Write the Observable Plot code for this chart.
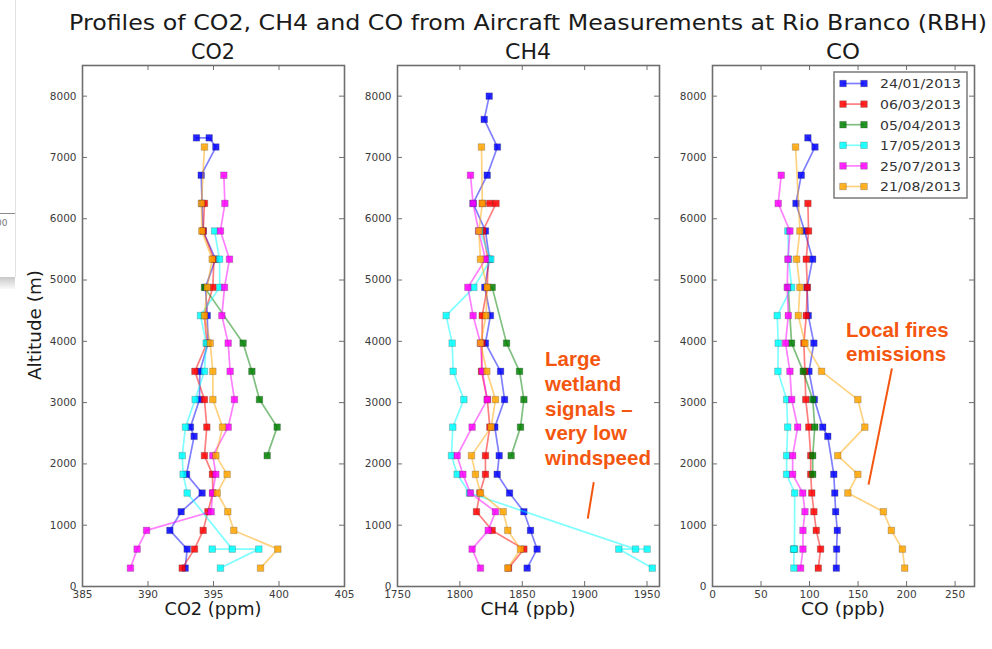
<!DOCTYPE html>
<html><head><meta charset="utf-8">
<script src="https://cdn.jsdelivr.net/npm/d3@7"></script>
<script src="https://cdn.jsdelivr.net/npm/@observablehq/plot@0.6"></script>
<style>
body{margin:0;background:#fff;font-family:"DejaVu Sans",sans-serif}
#root{position:relative;width:992px;height:649px;overflow:hidden;background:#fff}
#root svg{position:absolute;top:0}
</style></head><body><div id="root"></div>
<script>
// ---------- data ----------
const series = ["24/01/2013","06/03/2013","05/04/2013","17/05/2013","25/07/2013","21/08/2013"];
const colors = ["#0000ff","#ff0000","#008000","#00ffff","#ff00ff","#ffa500"];
const yTicks = [0,1000,2000,3000,4000,5000,6000,7000,8000];

// CO2 (ppm) : [altitude m, value]
const co2_2401 = [[7320,393.70],[7320,394.67],[7170,395.18],[6710,394.06],[6250,394.13],[5800,394.21],[5340,395.15],[4880,394.39],[4420,394.52],[3970,394.59],[3510,393.96],[3050,393.93],[2600,393.24],[2450,393.52],[1830,392.94],[1525,394.13],[1220,392.53],[915,391.67],[610,392.99],[300,392.84]];
const co2_0603 = [[6250,394.31],[5800,394.21],[5340,395.03],[4880,394.95],[4420,394.30],[3970,394.50],[3510,393.58],[3050,394.31],[2600,394.49],[2135,394.31],[1830,394.92],[1525,394.95],[1220,394.57],[915,394.21],[610,393.55],[300,392.61]];
const co2_0504 = [[4880,394.31],[3970,397.26],[3510,397.93],[3050,398.51],[2600,399.86],[2135,399.10]];
const co2_1705 = [[5800,395.08],[5340,395.46],[4880,395.48],[4420,394.01],[3970,394.44],[3510,394.31],[3050,393.60],[2600,392.86],[2135,392.61],[1830,392.68],[1525,392.99],[610,396.43],[610,394.90],[610,398.46],[300,395.53]];
const co2_2507 = [[6710,395.79],[6250,395.87],[5800,395.53],[5340,396.22],[4880,395.84],[4420,395.64],[3970,396.12],[3510,396.27],[3050,396.60],[2600,396.12],[2135,394.95],[1830,395.18],[1525,394.92],[1220,394.82],[915,389.89],[610,389.17],[300,388.66]];
const co2_2108 = [[7170,394.31],[6250,394.08],[5800,394.11],[5340,394.90],[4880,394.52],[4420,394.31],[3970,394.75],[3510,394.95],[3050,394.95],[2600,395.69],[2135,395.18],[1830,396.04],[1525,395.28],[1220,396.09],[915,396.55],[610,399.91],[300,398.59]];

// CH4 (ppb)
const ch4_2401 = [[8000,1823.5],[7620,1819.5],[7170,1830.1],[6710,1821.9],[6250,1810.6],[5800,1820.5],[5340,1823.7],[4880,1820.0],[4420,1824.5],[3970,1820.5],[3510,1832.6],[3050,1835.8],[2600,1828.0],[2135,1831.5],[1830,1829.9],[1525,1839.8],[1220,1851.3],[915,1856.6],[610,1861.9],[300,1853.9]];
const ch4_0603 = [[6250,1818.0],[6250,1824.0],[6250,1829.0],[5800,1818.4],[5340,1822.5],[4880,1822.0],[4420,1817.9],[3970,1817.9],[3510,1817.3],[3050,1822.0],[2600,1824.0],[2135,1820.5],[1830,1820.5],[1525,1816.0],[1220,1813.3],[915,1825.9],[610,1851.3],[300,1839.0]];
const ch4_0504 = [[4880,1825.9],[3970,1837.4],[3510,1847.8],[3050,1851.3],[2600,1848.6],[2135,1841.1]];
const ch4_1705 = [[5800,1816.0],[5340,1824.8],[4880,1811.2],[4420,1789.0],[3970,1793.8],[3510,1794.6],[3050,1803.2],[2600,1794.3],[2135,1793.3],[1830,1797.8],[1525,1807.7],[610,1940.8],[610,1950.1],[610,1927.4],[300,1954.2]];
const ch4_2507 = [[6710,1808.5],[6250,1810.6],[5800,1815.0],[5340,1820.5],[4880,1806.4],[4420,1810.6],[3970,1816.5],[3510,1818.0],[3050,1821.9],[2600,1809.8],[2135,1797.8],[1830,1802.4],[1525,1808.5],[1220,1828.5],[915,1822.7],[610,1809.8],[300,1816.5]];
const ch4_2108 = [[7170,1817.3],[6250,1818.0],[5800,1815.2],[5340,1816.5],[4880,1821.9],[4420,1821.0],[3970,1816.5],[3510,1821.6],[3050,1828.5],[2600,1825.1],[2135,1809.3],[1830,1812.5],[1525,1816.5],[1220,1834.7],[915,1838.4],[610,1848.6],[300,1838.4]];

// CO (ppb)
const co_2401 = [[7320,98.3],[7170,105.6],[6710,91.5],[6250,86.0],[5800,94.9],[5340,103.2],[4880,97.4],[4420,98.7],[3970,104.5],[3510,99.4],[3050,105.0],[2600,113.6],[2450,118.8],[1830,125.0],[1525,126.0],[1220,126.9],[915,128.6],[610,127.9],[300,127.6]];
const co_0603 = [[6250,98.3],[5800,99.0],[5340,96.6],[4880,97.7],[4420,96.6],[3970,94.2],[3510,95.2],[3050,96.1],[2600,99.2],[2135,101.2],[1830,101.2],[1525,102.3],[1220,104.5],[915,106.9],[610,111.4],[300,109.0]];
const co_0504 = [[4880,78.0],[3970,81.5],[3510,93.5],[3050,103.3],[2600,105.4],[2135,103.3],[1830,103.3]];
const co_1705 = [[5800,77.7],[5340,78.5],[4880,81.5],[4420,66.7],[3970,67.7],[3510,67.4],[3050,76.4],[2600,77.5],[2135,76.4],[1830,76.4],[1525,84.7],[610,84.5],[610,83.5],[610,84.0],[300,83.9]];
const co_2507 = [[6710,70.8],[6250,67.7],[5800,79.8],[5340,77.7],[4880,77.0],[4420,78.1],[3970,75.3],[3510,79.8],[3050,81.6],[2600,87.8],[2135,82.6],[1830,82.6],[1525,93.0],[1220,95.3],[915,93.2],[610,93.2],[300,90.8]];
const co_2108 = [[7170,85.6],[5800,90.1],[5340,86.7],[4880,90.1],[4420,88.4],[3970,95.3],[3510,112.4],[3050,149.8],[2600,157.0],[2135,129.1],[1830,149.8],[1525,139.5],[1220,176.1],[915,184.3],[610,195.7],[300,198.1]];

const co2Ticks = [385,390,395,400,405];
const ch4Ticks = [1750,1800,1850,1900,1950];
const coTicks = [0,50,100,150,200,250];

// annotation pointers (data units)
const ch4Pointer = [{x1:1907.3, y1:1704, x2:1902.5, y2:1106}];
const coPointer = [{x1:184.9, y1:3557, x2:160.8, y2:1662}];

// ---------- layout ----------
const root = document.getElementById("root");
const FW = 262, FT = 65, FB = 586, H = 620;
const ML = 55, MR = 12;
const axisCol = "#6e6e6e";
const fmt = d => String(d);

function panel(sets, domain, ticks, frameLeft, extra) {
  const fh = FB - FT;
  const marks = [
    Plot.ruleX(ticks, {insetTop: fh - 5, stroke: axisCol, strokeWidth: 1}),
    Plot.ruleX(ticks, {insetBottom: fh - 5, stroke: axisCol, strokeWidth: 1}),
    Plot.ruleY(yTicks, {insetRight: FW - 5, stroke: axisCol, strokeWidth: 1}),
    Plot.ruleY(yTicks, {insetLeft: FW - 5, stroke: axisCol, strokeWidth: 1})
  ];
  sets.forEach((s, i) => {
    const data = s.map(([a, v]) => ({alt: a, v}));
    marks.push(Plot.line(data, {x: "v", y: "alt", stroke: colors[i], strokeWidth: 1.7, strokeOpacity: 0.5}));
    marks.push(Plot.dot(data, {x: "v", y: "alt", symbol: "square", r: 3.7, fill: colors[i], fillOpacity: 0.85,
      stroke: "#333", strokeOpacity: 0.35, strokeWidth: 0.7}));
  });
  if (extra) marks.push(...extra);
  marks.push(Plot.frame({stroke: axisCol, strokeWidth: 1.6}));
  const svg = Plot.plot({
    width: FW + ML + MR, height: H,
    marginLeft: ML, marginRight: MR, marginTop: FT, marginBottom: H - FB,
    x: {domain, ticks, tickFormat: fmt, tickSize: 0, tickPadding: 4, label: null},
    y: {domain: [0, 8500], ticks: yTicks, tickFormat: fmt, tickSize: 0, tickPadding: 6, label: null},
    style: {background: "transparent", overflow: "visible", fontFamily: "DejaVu Sans", fontSize: "10.5px", color: "#3c3c3c"},
    marks
  });
  svg.style.left = (frameLeft - ML) + "px";
  root.appendChild(svg);
}

panel([co2_2401, co2_0603, co2_0504, co2_1705, co2_2507, co2_2108], [385, 405], co2Ticks, 82);
panel([ch4_2401, ch4_0603, ch4_0504, ch4_1705, ch4_2507, ch4_2108], [1750, 1960], ch4Ticks, 397,
  [Plot.link(ch4Pointer, {x1: "x1", y1: "y1", x2: "x2", y2: "y2", stroke: "#f4560f", strokeWidth: 2})]);
panel([co_2401, co_0603, co_0504, co_1705, co_2507, co_2108], [0, 270], coTicks, 712,
  [Plot.link(coPointer, {x1: "x1", y1: "y1", x2: "x2", y2: "y2", stroke: "#f4560f", strokeWidth: 2})]);

// ---------- overlay: titles, labels, legend, annotations ----------
const ov = d3.select(root).append("svg").attr("width", 992).attr("height", 649)
  .style("left", "0px").style("pointer-events", "none");

// screenshot remnant at the left edge
ov.append("line").attr("x1", 15.5).attr("x2", 15.5).attr("y1", 0).attr("y2", 277).attr("stroke", "#e2e2e2");
ov.append("line").attr("x1", 0).attr("x2", 15).attr("y1", 213.5).attr("y2", 213.5).attr("stroke", "#8a8a8a");
ov.append("text").attr("x", -4).attr("y", 226).attr("font-size", 9).attr("fill", "#777").text("00");
const grad = ov.append("defs").append("linearGradient").attr("id", "g1").attr("x1", 0).attr("x2", 0).attr("y1", 0).attr("y2", 1);
grad.append("stop").attr("offset", 0).attr("stop-color", "#c8c8c8");
grad.append("stop").attr("offset", 1).attr("stop-color", "#fafafa");
ov.append("rect").attr("x", 0).attr("y", 277).attr("width", 15).attr("height", 12).attr("fill", "url(#g1)");

const T = (x, y, s, size, opts = {}) => {
  const t = ov.append("text").attr("x", x).attr("y", y).attr("font-size", size)
    .attr("font-family", opts.family || "DejaVu Sans").attr("fill", opts.fill || "#1a1a1a")
    .attr("text-anchor", opts.anchor || "middle").text(s);
  if (opts.weight) t.attr("font-weight", opts.weight);
  if (opts.len) t.attr("textLength", opts.len).attr("lengthAdjust", "spacingAndGlyphs");
  if (opts.rotate) t.attr("transform", `rotate(-90 ${x} ${y})`);
  return t;
};
T(528, 30, "Profiles of CO2, CH4 and CO from Aircraft Measurements at Rio Branco (RBH)", 22, {len: 918});
T(213, 59, "CO2", 21, {len: 44});
T(528, 59, "CH4", 21, {len: 46});
T(843, 59, "CO", 21, {len: 34});
T(213, 615, "CO2 (ppm)", 17.5, {len: 97});
T(528, 615, "CH4 (ppb)", 17.5, {len: 95});
T(843, 615, "CO (ppb)", 17.5, {len: 84});
T(41, 325, "Altitude (m)", 17.5, {rotate: true, len: 110});

// legend
const lg = ov.append("g");
lg.append("rect").attr("x", 834).attr("y", 72).attr("width", 133).attr("height", 126)
  .attr("fill", "#fff").attr("stroke", "#7a7a7a").attr("stroke-width", 1.5);
series.forEach((name, i) => {
  const y = 83.5 + i * 20.6;
  lg.append("line").attr("x1", 843).attr("x2", 864).attr("y1", y).attr("y2", y)
    .attr("stroke", colors[i]).attr("stroke-width", 1.7).attr("stroke-opacity", 0.5);
  [843, 864].forEach(x => lg.append("rect").attr("x", x - 3.3).attr("y", y - 3.3).attr("width", 6.6).attr("height", 6.6)
    .attr("fill", colors[i]).attr("fill-opacity", 0.85).attr("stroke", "#333").attr("stroke-opacity", 0.35).attr("stroke-width", 0.7));
  lg.append("text").attr("x", 880).attr("y", y + 4.8).attr("font-size", 13).attr("font-family", "DejaVu Sans")
    .attr("fill", "#333").attr("textLength", 81).attr("lengthAdjust", "spacingAndGlyphs").text(name);
});

// annotations
const annCol = "#f4560f";
["Large", "wetland", "signals –", "very low", "windspeed"].forEach((s, i) =>
  T(545, 366 + i * 24.8, s, 20.5, {anchor: "start", weight: "bold", family: "Liberation Sans", fill: annCol}));
["Local fires", "emissions"].forEach((s, i) =>
  T(846, 337 + i * 23.5, s, 20.5, {anchor: "start", weight: "bold", family: "Liberation Sans", fill: annCol}));
</script>
</body></html>
